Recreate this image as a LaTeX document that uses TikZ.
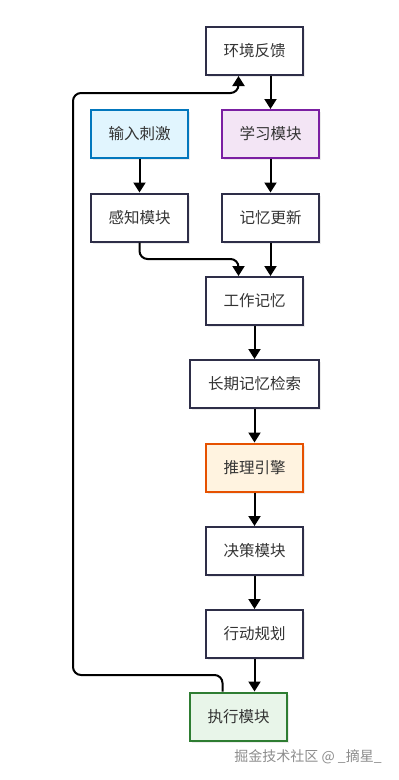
\documentclass[tikz,border=0pt]{standalone}
\usepackage{fontspec}
\newfontfamily\cjk{Noto Sans CJK SC}
\usetikzlibrary{arrows.meta,shadows}
\definecolor{bordercol}{HTML}{2E2E48}
\definecolor{textcol}{HTML}{333333}
\definecolor{bluefill}{HTML}{E1F5FE}
\definecolor{blueline}{HTML}{0277BD}
\definecolor{purplefill}{HTML}{F3E5F5}
\definecolor{purpleline}{HTML}{7B1FA2}
\definecolor{orangefill}{HTML}{FFF3E0}
\definecolor{orangeline}{HTML}{E65100}
\definecolor{greenfill}{HTML}{E8F5E9}
\definecolor{greenline}{HTML}{2E7D32}
\begin{document}
\begin{tikzpicture}[x=1pt,y=-1pt,
  box/.style={draw=bordercol, line width=2pt, fill=white, minimum width=97pt, minimum height=48pt, inner sep=0pt,
    font=\cjk\fontsize{15.5}{18}\selectfont, text=textcol,
    drop shadow={shadow xshift=2pt, shadow yshift=-2pt, opacity=0.15}},
  bluebox/.style={box, draw=blueline, fill=bluefill},
  purplebox/.style={box, draw=purpleline, fill=purplefill},
  orangebox/.style={box, draw=orangeline, fill=orangefill},
  greenbox/.style={box, draw=greenline, fill=greenfill},
  arr/.style={-{Triangle[width=12pt,length=10pt]}, line width=2pt, rounded corners=8pt, draw=black}]
\useasboundingbox (0,0) rectangle (399,780);
\node[box] (env) at (254.5,51) {环境反馈};
\node[bluebox] (in) at (139.5,134) {输入刺激};
\node[purplebox] (learn) at (270.5,134) {学习模块};
\node[box] (sense) at (139.5,217.5) {感知模块};
\node[box] (memu) at (270.5,217.5) {记忆更新};
\node[box] (wm) at (254.5,301) {工作记忆};
\node[box, minimum width=129pt] (ltm) at (254.5,384) {长期记忆检索};
\node[orangebox] (inf) at (254.5,467.5) {推理引擎};
\node[box] (dec) at (254.5,551) {决策模块};
\node[box] (act) at (254.5,634) {行动规划};
\node[greenbox] (exe) at (238.5,716.5) {执行模块};
\coordinate (c1) at (139.5,259);
\coordinate (fb1) at (73,675);
\coordinate (fb2) at (73,93);
\draw[arr] (learn.north |- env.south) -- (learn.north);
\draw[arr] (in) -- (sense);
\draw[arr] (learn) -- (memu);
\draw[arr] (sense.south) -- (c1) -| ([xshift=-16pt]wm.north);
\draw[arr] (memu.south) -- (memu.south |- wm.north);
\draw[arr] (wm) -- (ltm);
\draw[arr] (ltm) -- (inf);
\draw[arr] (inf) -- (dec);
\draw[arr] (dec) -- (act);
\draw[arr] (act.south) -- (act.south |- exe.north);
\draw[arr] ([xshift=-16pt]exe.north) |- (fb1) -- (fb2) -| ([xshift=-16pt]env.south);
\node[font=\cjk\fontsize{14}{16}\selectfont, text=black!45] (wmk) at (308,757) {掘金技术社区 @ \_摘星\_};
\end{tikzpicture}
\end{document}
